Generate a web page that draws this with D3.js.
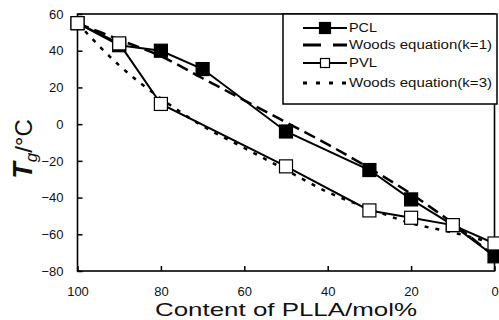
<!DOCTYPE html>
<html>
<head>
<meta charset="utf-8">
<script src="https://cdn.jsdelivr.net/npm/d3@7"></script>
<style>
  body { margin: 0; background: #fff; }
  svg { display: block; }
</style>
</head>
<body>
<div id="canvas"></div>
<script>
var w = 499;
var h = 320;

// content of PLLA (mol%)
var pclX  = [100, 90, 80, 70, 50, 30, 20, 10, 0];
var pclTg = [55, 43, 40, 30, -4, -25, -41, -55, -72];
var pvlX  = [100, 90, 80, 50, 30, 20, 10, 0];
var pvlTg = [55, 44, 11, -23, -47, -51, -55, -65];

// Woods equation curves
var woodsX  = [100, 90, 80, 70, 60, 50, 40, 30, 20, 10, 0];
var woodsK1 = [55, 46, 37, 25, 13, 1, -11, -24, -38, -54, -72];
var woodsK3 = [55, 32, 14, -1, -13, -25, -37, -46, -54, -59, -65];

var xTicks = [100, 80, 60, 40, 20, 0];
var yTicks = [60, 40, 20, 0, -20, -40, -60, -80];

var legendNames = ["PCL", "Woods equation(k=1)", "PVL", "Woods equation(k=3)"];

// plot box (note: "top" is taken by window.top)
var pLeft = 77.5, pRight = 494.5, pTop = 14, pBottom = 271;

var svg = d3.select("#canvas").append("svg")
      .attr("width", w)
      .attr("height", h)
      .style("background-color", "white");

var xScale = d3.scaleLinear().domain([100, 0]).range([pLeft, pRight]);
var yScale = d3.scaleLinear().domain([-80, 60]).range([pBottom, pTop]);

var font = "'Liberation Sans', Arial, sans-serif";

// axes with inward ticks
var xAxis = svg.append("g")
    .attr("transform", "translate(0," + pBottom + ")")
    .call(d3.axisBottom(xScale).tickValues(xTicks).tickSizeInner(-5).tickSizeOuter(0).tickPadding(16));
var yAxis = svg.append("g")
    .attr("transform", "translate(" + pLeft + ",0)")
    .call(d3.axisLeft(yScale).tickValues(yTicks).tickSizeInner(-5).tickSizeOuter(0).tickPadding(14));

[xAxis, yAxis].forEach(function(a){
  a.select(".domain").remove();
  a.selectAll("line").attr("stroke", "#000").attr("stroke-width", 1.5);
  a.selectAll("text").attr("font-family", font).attr("font-size", 13).attr("fill", "#111");
});
yAxis.selectAll("text").text(function(d){ return d < 0 ? "\u2212" + Math.abs(d) : d; });

// frame
svg.append("rect")
    .attr("x", pLeft).attr("y", pTop)
    .attr("width", pRight - pLeft).attr("height", pBottom - pTop)
    .attr("fill", "none").attr("stroke", "#000").attr("stroke-width", 1.6);

function pts(xs, ys){
  return xs.map(function(x, i){ return [x, ys[i]]; });
}

var smooth = d3.line()
    .x(function(d){ return xScale(d[0]); })
    .y(function(d){ return yScale(d[1]); })
    .curve(d3.curveMonotoneX);
var straight = d3.line()
    .x(function(d){ return xScale(d[0]); })
    .y(function(d){ return yScale(d[1]); });

// Woods equation curves
svg.append("path")
    .attr("d", smooth(pts(woodsX, woodsK1)))
    .attr("fill", "none").attr("stroke", "#000")
    .attr("stroke-width", 2.5).attr("stroke-dasharray", "12,6");
svg.append("path")
    .attr("d", smooth(pts(woodsX, woodsK3)))
    .attr("fill", "none").attr("stroke", "#000")
    .attr("stroke-width", 2.5).attr("stroke-dasharray", "4,7");

// measured series
var series = [
  {name: "PCL", data: pts(pclX, pclTg), fill: "#000"},
  {name: "PVL", data: pts(pvlX, pvlTg), fill: "#fff"}
];

series.forEach(function(s){
  svg.append("path")
      .attr("d", straight(s.data))
      .attr("fill", "none").attr("stroke", "#000").attr("stroke-width", 2);
});
series.forEach(function(s){
  svg.append("g").selectAll("rect")
      .data(s.data)
      .enter().append("rect")
      .attr("x", function(d){ return xScale(d[0]) - 6.5; })
      .attr("y", function(d){ return yScale(d[1]) - 6.5; })
      .attr("width", 13).attr("height", 13)
      .attr("fill", s.fill).attr("stroke", "#000").attr("stroke-width", 1.2);
});

// legend
var lg = svg.append("g");
lg.append("rect")
    .attr("x", 283).attr("y", 14).attr("width", 214).attr("height", 90)
    .attr("fill", "#fff").attr("stroke", "#000").attr("stroke-width", 1.5);

var legendY = [28, 45, 63, 83];
var legendLen = [28, 143, 28, 143];
var legendDash = [null, "18,12", null, "4,9"];
var legendFill = ["#000", null, "#fff", null];

legendNames.forEach(function(name, i){
  var y = legendY[i];
  lg.append("line")
      .attr("x1", 303).attr("x2", 347).attr("y1", y).attr("y2", y)
      .attr("stroke", "#000")
      .attr("stroke-width", legendDash[i] ? 3 : 2)
      .attr("stroke-dasharray", legendDash[i]);
  if(legendFill[i]){
    var s = i == 0 ? 11 : 9;
    lg.append("rect")
        .attr("x", 325 - s / 2).attr("y", y - s / 2)
        .attr("width", s).attr("height", s)
        .attr("fill", legendFill[i]).attr("stroke", "#000").attr("stroke-width", 1.2);
  }
  lg.append("text")
      .attr("x", 349).attr("y", y + 4)
      .attr("font-family", font).attr("font-size", 12)
      .attr("fill", "#111")
      .attr("textLength", legendLen[i]).attr("lengthAdjust", "spacingAndGlyphs")
      .text(name);
});

// axis titles
svg.append("text")
    .attr("x", 286).attr("y", 316)
    .attr("text-anchor", "middle")
    .attr("font-family", font).attr("font-size", 19)
    .attr("fill", "#111")
    .attr("textLength", 262).attr("lengthAdjust", "spacingAndGlyphs")
    .text("Content of PLLA/mol%");

var yt = svg.append("text")
    .attr("transform", "translate(32,149) rotate(-90)")
    .attr("text-anchor", "middle")
    .attr("font-family", font).attr("font-size", 24)
    .attr("fill", "#111");
yt.append("tspan").attr("font-style", "italic").attr("font-weight", "bold").attr("font-size", 27).text("T");
yt.append("tspan").attr("font-style", "italic").attr("font-size", 17).attr("dy", 5).text("g");
yt.append("tspan").attr("dy", -5).text("/\u00b0C");
</script>
</body>
</html>
